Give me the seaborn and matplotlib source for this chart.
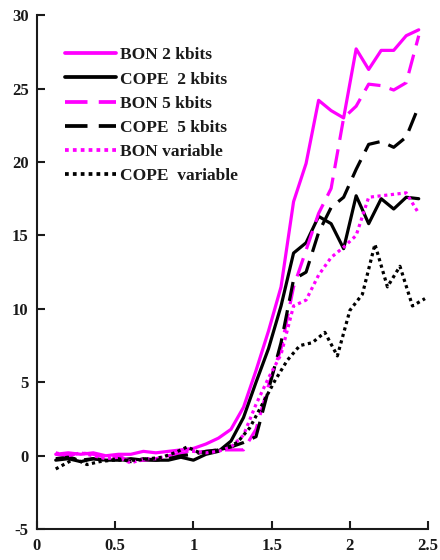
import numpy as np
import pandas as pd
import matplotlib
matplotlib.use("Agg")
import matplotlib.pyplot as plt
import seaborn as sns

# ---------------- data ----------------
x_main = [0.12, 0.20, 0.28, 0.36, 0.44, 0.52, 0.60, 0.68, 0.76, 0.84,
          0.92, 1.00, 1.08, 1.16, 1.24, 1.32, 1.40, 1.48, 1.56, 1.64,
          1.72, 1.80, 1.88, 1.96, 2.04, 2.12, 2.20, 2.28, 2.36, 2.44]
x_cope_var = [0.12, 0.24, 0.32, 0.40, 0.48, 0.56, 0.64, 0.72, 0.80, 0.88,
              0.96, 1.04, 1.12, 1.20, 1.28, 1.36, 1.44, 1.52, 1.60, 1.68,
              1.76, 1.84, 1.92, 2.00, 2.08, 2.16, 2.24, 2.32, 2.40, 2.48]

bon_2k = [0.1, 0.2, 0.1, 0.2, 0.0, 0.1, 0.1, 0.3, 0.2, 0.3,
          0.4, 0.5, 0.8, 1.2, 1.8, 3.3, 5.8, 8.5, 11.5, 17.3,
          19.9, 24.2, 23.5, 23.0, 27.7, 26.3, 27.6, 27.6, 28.6, 29.0]
cope_2k = [-0.3, -0.2, -0.4, -0.2, -0.3, -0.3, -0.2, -0.3, -0.3, -0.3,
           -0.1, -0.3, 0.1, 0.3, 1.0, 2.6, 5.0, 7.3, 10.2, 13.8,
           14.5, 16.3, 15.8, 14.1, 17.7, 15.8, 17.5, 16.8, 17.6, 17.5]
bon_5k = [0.1, 0.0, 0.2, 0.1, -0.1, 0.0, -0.4, -0.3, -0.2, 0.0,
          0.2, 0.2, 0.3, 0.4, 0.4, 0.4, 1.8, 4.8, 7.3, 11.5,
          14.0, 16.5, 18.2, 23.0, 23.8, 25.3, 25.2, 24.9, 25.4, 28.6]
cope_5k = [-0.2, -0.1, -0.3, -0.2, -0.3, -0.2, -0.4, -0.2, -0.3, -0.2,
           0.0, 0.1, 0.3, 0.4, 0.6, 0.9, 1.3, 4.5, 7.7, 12.0,
           12.5, 15.2, 16.9, 17.6, 19.5, 21.2, 21.4, 21.0, 21.7, 23.8]
bon_var = [0.2, 0.0, 0.2, 0.0, -0.2, -0.1, -0.5, -0.2, -0.2, 0.0,
           0.3, 0.3, 0.2, 0.3, 0.6, 1.4, 3.5, 5.3, 6.9, 10.2,
           10.6, 12.3, 13.5, 14.2, 15.0, 17.6, 17.7, 17.8, 17.9, 16.5]
cope_var = [-0.9, -0.2, -0.6, -0.4, -0.3, -0.3, -0.3, -0.2, -0.1, 0.2,
            0.6, 0.2, 0.3, 0.5, 0.9, 1.9, 3.5, 5.1, 6.5, 7.5,
            7.7, 8.4, 6.8, 9.9, 11.0, 14.4, 11.5, 12.9, 10.2, 10.7]

labels = ["BON 2 kbits", "COPE  2 kbits", "BON 5 kbits",
          "COPE  5 kbits", "BON variable", "COPE  variable"]
x_ticks = [0, 0.5, 1, 1.5, 2, 2.5]
x_tick_labels = ["0", "0.5", "1", "1.5", "2", "2.5"]
y_ticks = [-5, 0, 5, 10, 15, 20, 25, 30]

# ---------------- style ----------------
sns.set_style("ticks")
plt.rcParams["font.family"] = ["Liberation Serif", "DejaVu Serif"]
plt.rcParams["axes.unicode_minus"] = False
plt.rcParams["xtick.direction"] = "in"
plt.rcParams["ytick.direction"] = "in"

MAG = "#FF00FF"
BLK = "#000000"
LW = 2.3
series = [
    (x_main, bon_2k, MAG, None),
    (x_main, cope_2k, BLK, None),
    (x_main, bon_5k, MAG, (6, 3)),
    (x_main, cope_5k, BLK, (6, 3)),
    (x_main, bon_var, MAG, (1, 1.1)),
    (x_cope_var, cope_var, BLK, (1, 1.1)),
]

fig = plt.figure(figsize=(4.4, 5.6), dpi=100)
ax = fig.add_axes([0.084, 0.055, 0.889, 0.918])

for (xs, ys, col, dsh), lab in zip(series, labels):
    df = pd.DataFrame({"x": xs, "y": ys})
    sns.lineplot(data=df, x="x", y="y", ax=ax, color=col, linewidth=LW,
                 label=lab, sort=False, estimator=None)
    line = ax.lines[-1]
    if dsh is not None:
        line.set_dashes(dsh)

ax.set_xlim(0, 2.5)
ax.set_ylim(-5, 30)
ax.set_xticks(x_ticks)
ax.set_xticklabels(x_tick_labels)
ax.set_yticks(y_ticks)
ax.set_xlabel("")
ax.set_ylabel("")
ax.tick_params(axis="both", labelsize=12, length=6, width=1.5, pad=6,
               colors="#1a1a1a")
for lbl in ax.get_xticklabels() + ax.get_yticklabels():
    lbl.set_fontweight("bold")
for s in ["top", "right"]:
    ax.spines[s].set_visible(False)
for s in ["left", "bottom"]:
    ax.spines[s].set_linewidth(1.5)
    ax.spines[s].set_color("#1a1a1a")

leg = ax.legend(loc="upper left", bbox_to_anchor=(0.054, 0.951), frameon=False,
                prop={"size": 12.5, "weight": "bold"},
                handlelength=2.93, handletextpad=0.23,
                labelspacing=0.46, borderaxespad=0.0)
for h in leg.get_lines():
    h.set_linewidth(LW + 0.4)
for t in leg.get_texts():
    t.set_color("#1a1a1a")

fig.savefig("out.png", dpi=100)
